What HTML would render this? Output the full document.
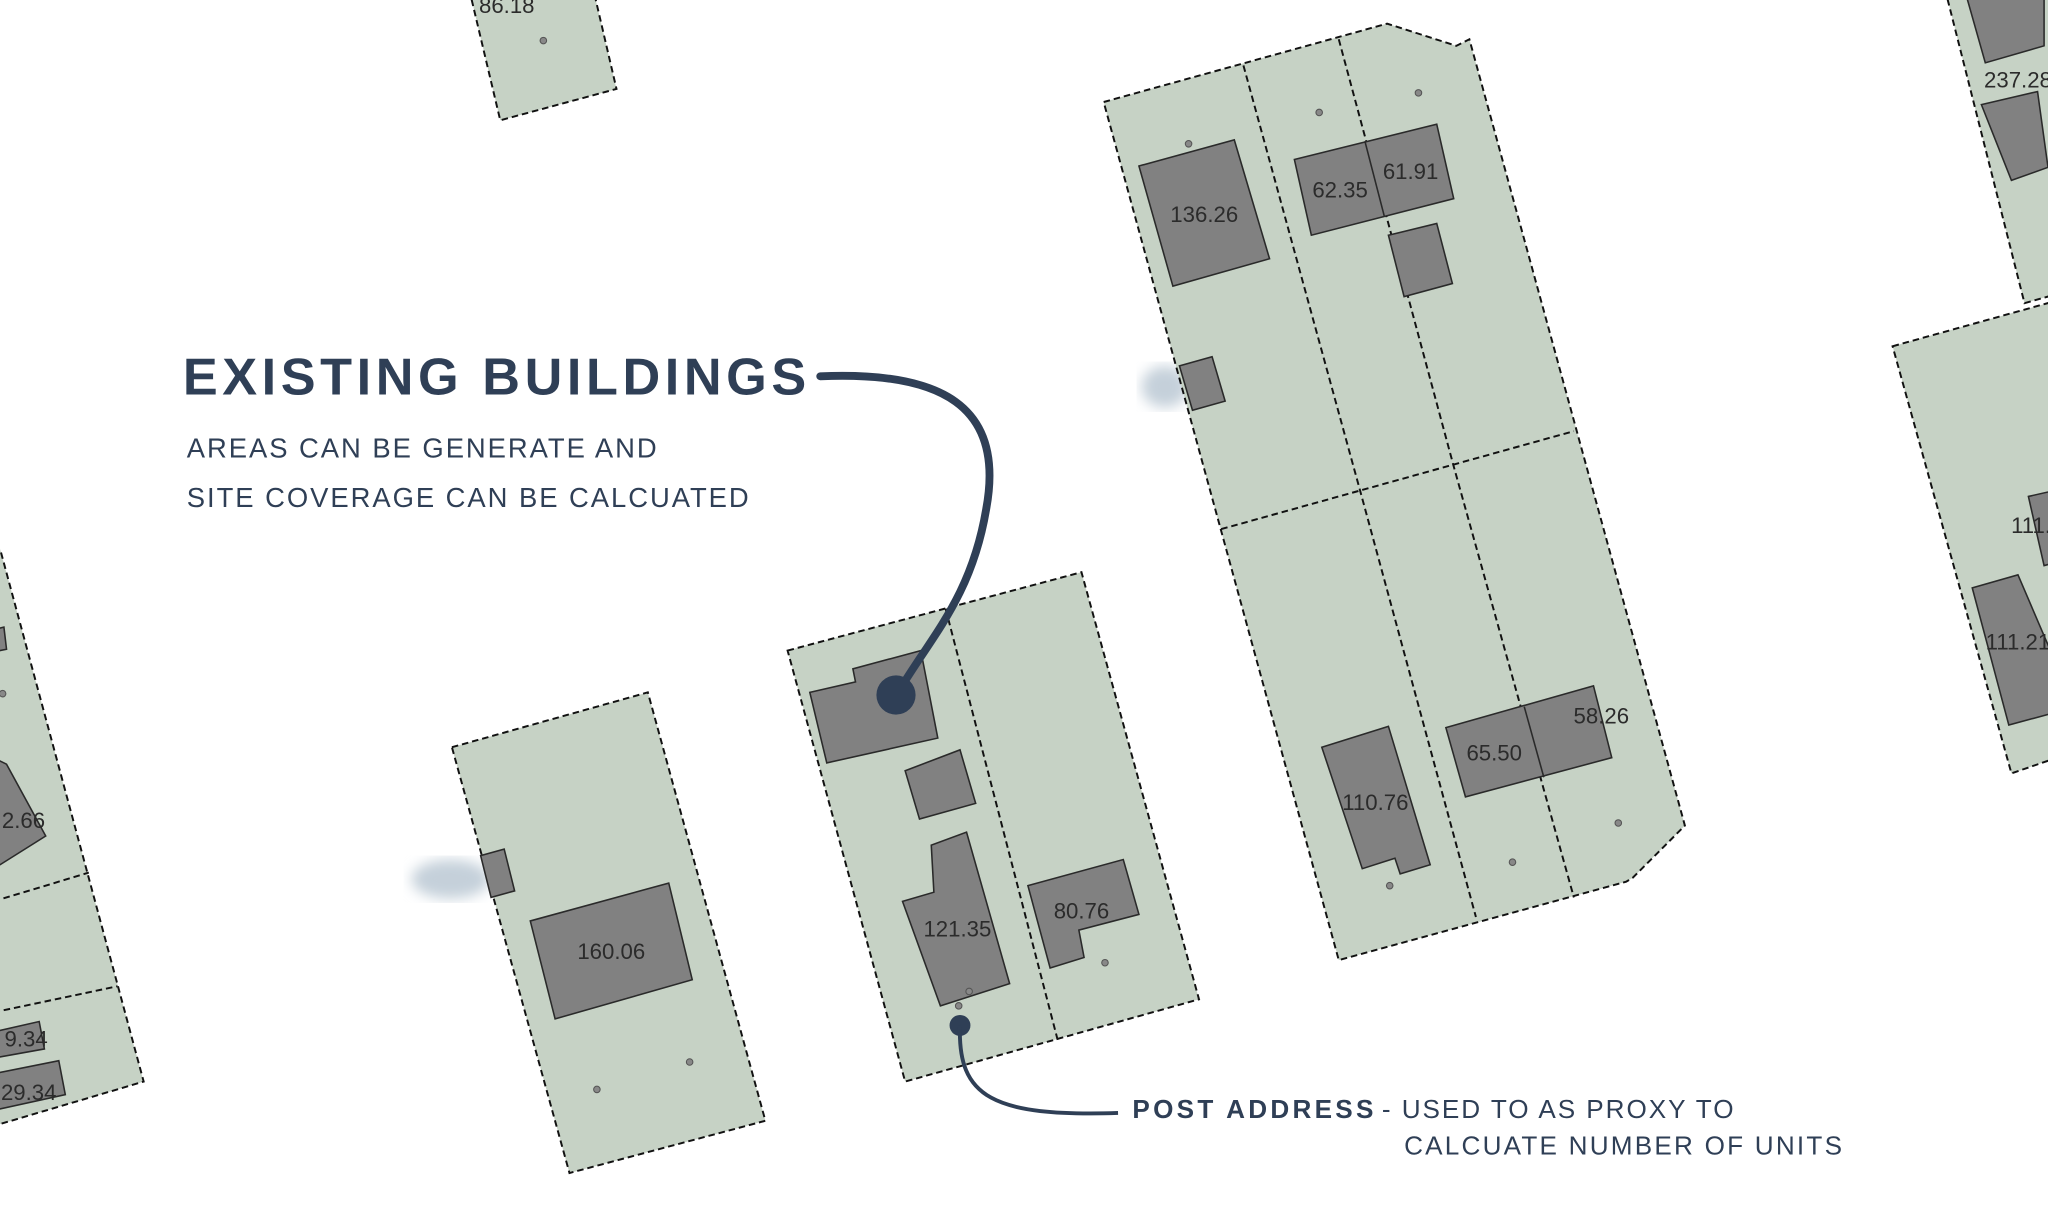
<!DOCTYPE html>
<html><head><meta charset="utf-8"><style>
html,body{margin:0;padding:0;background:#fff;}
svg{display:block;}
.p{fill:#c6d2c5;stroke:#111;stroke-width:1.5;stroke-dasharray:5,3;}
.d{fill:none;stroke:#111;stroke-width:1.5;stroke-dasharray:5,3;}
.b{fill:#818181;stroke:#2a2a2a;stroke-width:1.2;}
.bl{fill:none;stroke:#2a2a2a;stroke-width:1.2;}
.n{font-family:"Liberation Sans",sans-serif;font-size:17px;fill:#2b2b2b;text-anchor:middle;}
.pt{fill:#888;stroke:#555;stroke-width:0.8;}
.h{font-family:"Liberation Sans",sans-serif;fill:#2f3f56;}
</style></head><body>
<svg width="2048" height="1228" viewBox="0 0 1568 940" xmlns="http://www.w3.org/2000/svg">
<defs><filter id="bl"><feGaussianBlur stdDeviation="5"/></filter></defs>
<ellipse cx="345" cy="673" rx="30" ry="15" fill="#c5d0da" filter="url(#bl)"/>
<ellipse cx="892" cy="296" rx="18" ry="16" fill="#c5d0da" filter="url(#bl)"/>

<polygon class="p" points="360,-5 455,-5 472,68 383,92"/>
<text class="n" x="388" y="10">86.18</text>
<circle class="pt" cx="416" cy="31" r="2.5"/>

<polygon class="p" points="845,78 1062,18 1115,35 1125,30 1290,632 1250,672 1245,675 1025,735"/>
<path class="d" d="M952,50 L1042,378 L1130,702"/>
<path class="d" d="M1025,30 L1113,357 L1205,687"/>
<path class="d" d="M935,405 L1205,330"/>
<polygon class="b" points="872,127 945,107 972,198 898,219"/>
<text class="n" x="922" y="170">136.26</text>
<polygon class="b" points="991,122 1100,95 1113,152 1004,180"/>
<path class="bl" d="M1045,108 L1060,166"/>
<text class="n" x="1026" y="151">62.35</text>
<text class="n" x="1080" y="137">61.91</text>
<polygon class="b" points="1063,180 1100,171 1112,217 1075,227"/>
<polygon class="b" points="903,280 928,273 938,307 913,314"/>
<polygon class="b" points="1012,572 1063,556 1095,662 1072,669 1068,657 1043,665"/>
<text class="n" x="1053" y="620">110.76</text>
<polygon class="b" points="1107,557 1220,525 1234,580 1122,610"/>
<path class="bl" d="M1167,541 L1182,595"/>
<text class="n" x="1144" y="582">65.50</text>
<text class="n" x="1226" y="554">58.26</text>
<circle class="pt" cx="910" cy="110" r="2.5"/>
<circle class="pt" cx="1010" cy="86" r="2.5"/>
<circle class="pt" cx="1086" cy="71" r="2.5"/>
<circle class="pt" cx="1064" cy="678" r="2.5"/>
<circle class="pt" cx="1158" cy="660" r="2.5"/>
<circle class="pt" cx="1239" cy="630" r="2.5"/>

<polygon class="p" points="603,498 828,438 918,765 693,828"/>
<path class="d" d="M724,466 L810,797"/>
<polygon class="b" points="620,530 655,522 653,512 705,498 718,565 633,584"/>
<polygon class="b" points="693,590 735,574 747,615 704,627"/>
<polygon class="b" points="691,690 715,683 713,647 740,637 773,753 720,770"/>
<text class="n" x="733" y="717">121.35</text>
<polygon class="b" points="787,678 860,658 872,700 826,712 830,733 804,741"/>
<text class="n" x="828" y="703">80.76</text>
<circle class="pt" cx="742" cy="759" r="2.5"/>
<circle class="pt" cx="734" cy="770" r="2.5"/>
<circle class="pt" cx="846" cy="737" r="2.5"/>

<polygon class="p" points="346,572 496,530 586,858 436,898"/>
<polygon class="b" points="368,655 386,650 394,682 376,687"/>
<polygon class="b" points="406,705 512,676 530,750 425,780"/>
<text class="n" x="468" y="734">160.06</text>
<circle class="pt" cx="457" cy="834" r="2.5"/>
<circle class="pt" cx="528" cy="813" r="2.5"/>

<polygon class="p" points="-5,420 0,420 110,828 -5,862"/>
<path class="d" d="M-5,690 L68,668"/>
<path class="d" d="M-5,775 L90,755"/>
<polygon class="b" points="-5,580 5,585 35,640 0,662 -5,662"/>
<text class="n" x="18" y="634">2.66</text>
<polygon class="b" points="-5,790 30,782 34,803 -5,810"/>
<text class="n" x="20" y="801">9.34</text>
<polygon class="b" points="-5,822 45,812 50,838 -5,850"/>
<text class="n" x="22" y="842">29.34</text>
<polygon class="b" points="-5,482 3,480 5,497 -5,499"/>
<circle class="pt" cx="2" cy="531" r="2.5"/>

<polygon class="p" points="1490,-5 1575,-5 1575,225 1550,232"/>
<polygon class="b" points="1505,-5 1565,-5 1565,35 1520,48"/>
<polygon class="b" points="1517,80 1560,70 1568,128 1540,138"/>
<text class="n" x="1545" y="67">237.28</text>
<polygon class="p" points="1449,265 1575,230 1575,580 1540,592"/>
<polygon class="b" points="1510,450 1545,440 1575,510 1575,545 1538,555"/>
<text class="n" x="1545" y="497">111.21</text>
<polygon class="b" points="1553,380 1575,375 1575,430 1565,433"/>
<text class="n" x="1555" y="408">111.</text>

<text class="h" x="140" y="302" font-size="40" font-weight="bold" letter-spacing="3.5">EXISTING BUILDINGS</text>
<text class="h" x="143" y="350" font-size="21" letter-spacing="1.5">AREAS CAN BE GENERATE AND</text>
<text class="h" x="143" y="388" font-size="21" letter-spacing="1.5">SITE COVERAGE CAN BE CALCUATED</text>
<path d="M628,288 C720,284 770,310 755,390 C744,455 715,485 690,526" fill="none" stroke="#2f3f56" stroke-width="6" stroke-linecap="round"/>
<circle cx="686" cy="532" r="15" fill="#2f3f56"/>
<circle cx="735" cy="785" r="8" fill="#2f3f56"/>
<path d="M735,785 C733,840 760,855 856,852" fill="none" stroke="#2f3f56" stroke-width="3"/>
<text class="h" x="867" y="856" font-size="20" font-weight="bold" letter-spacing="2.5">POST ADDRESS</text>
<text class="h" x="1058" y="856" font-size="20" letter-spacing="1.5">- USED TO AS PROXY TO</text>
<text class="h" x="1075" y="884" font-size="20" letter-spacing="1.7">CALCUATE NUMBER OF UNITS</text>
</svg>
</body></html>
